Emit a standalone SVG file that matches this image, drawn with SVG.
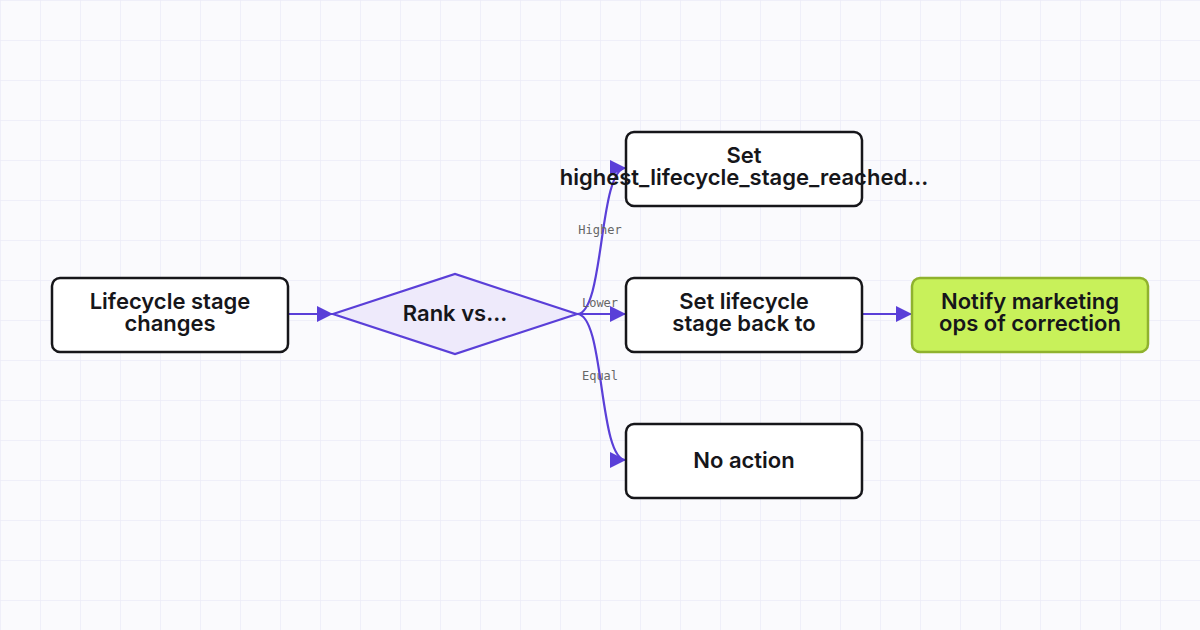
<svg xmlns="http://www.w3.org/2000/svg" width="1200" height="630" viewBox="0 0 1200 630">
<defs>
<pattern id="g" width="40" height="40" patternUnits="userSpaceOnUse"><path d="M0 0H40M0 0V40" fill="none" stroke="#ecebf7" stroke-width="1.5"/></pattern>
<marker id="a" viewBox="0 0 10 10" refX="10" refY="5" markerWidth="7.5" markerHeight="7.5" orient="auto"><path d="M0 0L10 5L0 10z" fill="#5a3fd8"/></marker>
</defs>
<style>
.n{fill:#fff;stroke:#16161a;stroke-width:2.5}
.t{font-family:Inter,"Liberation Sans",sans-serif;font-weight:600;font-size:22px;fill:#16161a;text-anchor:middle}
.e{fill:none;stroke:#5a3fd8;stroke-width:2.2;marker-end:url(#a)}
.l{font-family:"DejaVu Sans Mono","Liberation Mono",monospace;font-size:12px;fill:#666;text-anchor:middle}
</style>
<rect width="1200" height="630" fill="#fafafd"/>
<rect width="1200" height="630" fill="url(#g)"/>
<g id="edges">
<path class="e" d="M288 314H333"/>
<path class="e" d="M577 314C605 314 598 168 626 168"/>
<path class="e" d="M577 314H626"/>
<path class="e" d="M577 314C605 314 598 460 626 460"/>
<path class="e" d="M862 314H912"/>
<text class="l" x="600" y="234">Higher</text>
<text class="l" x="600" y="307">Lower</text>
<text class="l" x="600" y="380">Equal</text>
</g>
<g id="start"><rect class="n" x="52" y="278" width="236" height="74" rx="8"/><text class="t" x="170" y="309">Lifecycle stage</text><text class="t" x="170" y="331">changes</text></g>
<g id="decision"><path d="M333 314L455 274L577 314L455 354Z" fill="#eeeafb" stroke="#5a3fd8" stroke-width="2.2"/><text class="t" x="455" y="321">Rank vs...</text></g>
<g id="higher"><rect class="n" x="626" y="132" width="236" height="74" rx="8"/><text class="t" x="744" y="163">Set</text><text class="t" x="744" y="185">highest_lifecycle_stage_reached...</text></g>
<g id="lower"><rect class="n" x="626" y="278" width="236" height="74" rx="8"/><text class="t" x="744" y="309">Set lifecycle</text><text class="t" x="744" y="331">stage back to</text></g>
<g id="equal"><rect class="n" x="626" y="424" width="236" height="74" rx="8"/><text class="t" x="744" y="468">No action</text></g>
<g id="notify"><rect x="912" y="278" width="236" height="74" rx="8" fill="#c8f15a" stroke="#8fb22e" stroke-width="2.5"/><text class="t" x="1030" y="309">Notify marketing</text><text class="t" x="1030" y="331">ops of correction</text></g>
</svg>
